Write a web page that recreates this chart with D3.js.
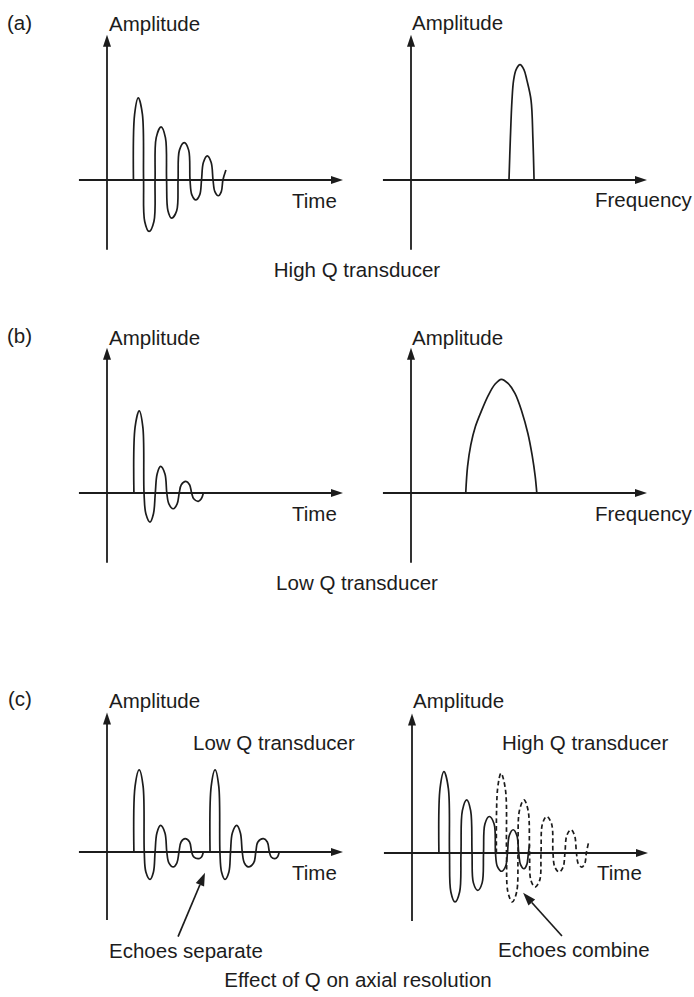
<!DOCTYPE html>
<html>
<head>
<meta charset="utf-8">
<script src="https://cdn.jsdelivr.net/npm/d3@7/dist/d3.min.js"></script>
<style>
  html, body { margin: 0; padding: 0; background: #ffffff; }
  svg { display: block; }
</style>
</head>
<body>
<script>
// ---------------- DATA (time in µs-like units, amplitude normalised) ----------------
// (a) High Q transducer: time-domain ring-down (zero crossings, shoulders, extrema)
const highQTime = [
  [1.15, 0], [1.20, 0.79], [1.36, 0.99], [1.54, 0.79], [1.59, 0],
  [1.64, -0.50], [1.83, -0.62], [2.04, -0.50], [2.09, 0],
  [2.14, 0.51], [2.35, 0.64], [2.54, 0.51], [2.59, 0],
  [2.65, -0.37], [2.81, -0.46], [3.03, -0.37], [3.09, 0],
  [3.15, 0.36], [3.36, 0.45], [3.55, 0.36], [3.61, 0],
  [3.69, -0.18], [3.86, -0.24], [4.03, -0.18], [4.11, 0],
  [4.19, 0.21], [4.36, 0.29], [4.53, 0.21], [4.61, 0],
  [4.69, -0.14], [4.84, -0.19], [4.97, -0.14], [5.04, 0], [5.17, 0.12]
];
// (a) High Q transducer: narrow spectrum
const highQSpectrum = [
  [4.26, 0], [4.32, 0.50], [4.39, 0.96], [4.46, 1.20], [4.57, 1.33], [4.74, 1.39],
  [4.91, 1.33], [5.04, 1.20], [5.22, 0.96], [5.30, 0.50], [5.35, 0]
];
// (b) Low Q transducer: short pulse
const lowQTime = [
  [1.17, 0], [1.22, 0.79], [1.40, 0.99], [1.56, 0.79], [1.61, 0],
  [1.69, -0.25], [1.87, -0.35], [2.02, -0.25], [2.10, 0],
  [2.18, 0.23], [2.33, 0.32], [2.52, 0.23], [2.60, 0],
  [2.69, -0.13], [2.88, -0.19], [3.05, -0.13], [3.14, 0],
  [3.23, 0.10], [3.43, 0.14], [3.59, 0.10], [3.68, 0],
  [3.77, -0.07], [3.97, -0.10], [4.10, -0.07], [4.19, 0]
];
// (b) Low Q transducer: broad spectrum
const lowQSpectrum = [
  [2.38, 0], [2.46, 0.32], [2.60, 0.58], [2.80, 0.80], [3.05, 0.98], [3.35, 1.17],
  [3.65, 1.31], [3.93, 1.37], [4.22, 1.32], [4.52, 1.20], [4.82, 0.98], [5.08, 0.72],
  [5.27, 0.45], [5.40, 0.20], [5.47, 0]
];
// (c) Low Q: two separate echoes
const lowQEcho1 = [
  [1.17, 0], [1.22, 0.79], [1.40, 0.99], [1.57, 0.79], [1.62, 0],
  [1.69, -0.24], [1.87, -0.33], [2.02, -0.24], [2.09, 0],
  [2.17, 0.23], [2.33, 0.32], [2.52, 0.23], [2.60, 0],
  [2.69, -0.13], [2.88, -0.18], [3.04, -0.13], [3.13, 0],
  [3.22, 0.12], [3.40, 0.16], [3.59, 0.12], [3.68, 0],
  [3.77, -0.06], [4.00, -0.08], [4.11, -0.06], [4.19, 0]
];
const lowQEcho2 = [
  [4.48, 0], [4.53, 0.79], [4.70, 0.99], [4.86, 0.79], [4.91, 0],
  [4.98, -0.24], [5.13, -0.33], [5.30, -0.24], [5.37, 0],
  [5.45, 0.23], [5.64, 0.32], [5.80, 0.23], [5.88, 0],
  [5.97, -0.13], [6.14, -0.18], [6.38, -0.13], [6.47, 0],
  [6.56, 0.12], [6.80, 0.16], [6.97, 0.12], [7.06, 0],
  [7.14, -0.06], [7.30, -0.08], [7.41, -0.06], [7.49, 0]
];
// (c) High Q: overlapping echoes (second echo dashed)
const highQEcho1 = [
  [1.17, 0], [1.22, 0.78], [1.39, 0.98], [1.58, 0.78], [1.63, 0],
  [1.69, -0.47], [1.87, -0.59], [2.07, -0.47], [2.13, 0],
  [2.19, 0.51], [2.38, 0.64], [2.55, 0.51], [2.61, 0],
  [2.67, -0.36], [2.86, -0.45], [3.05, -0.36], [3.11, 0],
  [3.17, 0.35], [3.36, 0.44], [3.57, 0.35], [3.63, 0],
  [3.71, -0.16], [3.90, -0.22], [4.07, -0.16], [4.15, 0],
  [4.23, 0.21], [4.40, 0.28], [4.56, 0.21], [4.64, 0],
  [4.72, -0.14], [4.87, -0.19], [4.99, -0.14], [5.06, 0], [5.11, 0.10]
];
const highQEcho2 = [
  [3.67, 0], [3.72, 0.77], [3.87, 0.96], [4.06, 0.77], [4.11, 0],
  [4.17, -0.47], [4.36, -0.59], [4.55, -0.47], [4.61, 0],
  [4.67, 0.51], [4.87, 0.64], [5.05, 0.51], [5.11, 0],
  [5.17, -0.33], [5.35, -0.41], [5.55, -0.33], [5.61, 0],
  [5.67, 0.35], [5.86, 0.44], [6.07, 0.35], [6.13, 0],
  [6.21, -0.17], [6.40, -0.23], [6.57, -0.17], [6.65, 0],
  [6.73, 0.21], [6.91, 0.28], [7.07, 0.21], [7.15, 0],
  [7.23, -0.13], [7.38, -0.17], [7.51, -0.13], [7.58, 0], [7.67, 0.12]
];
// axis extents (data units)
const axisTimeExtent = [-1.22, 10.26];
const axisAmpExtentAB = [-0.84, 1.75];
const axisAmpExtentC = [-0.82, 1.68];
// annotation arrows (data units: [from], [tip])
const arrowSeparate = [[3.09, -1.02], [4.26, -0.25]];
const arrowCombine = [[6.52, -1.00], [4.83, -0.48]];

// ---------------- LAYOUT ----------------
const W = 694, H = 997;
const INK = "#1c1c1c";
const FONT = '"Liberation Sans", Arial, Helvetica, sans-serif';
const FS = "20.5px";
const UX = 23, UY = 83; // pixels per unit

const svg = d3.select("body").append("svg")
  .attr("width", W).attr("height", H)
  .attr("viewBox", `0 0 ${W} ${H}`);

function makePanel(ox, oy, xr, yr) {
  const x = d3.scaleLinear().domain(xr).range([ox + xr[0] * UX, ox + xr[1] * UX]);
  const y = d3.scaleLinear().domain(yr).range([oy - yr[0] * UY, oy - yr[1] * UY]);
  const g = svg.append("g");
  const x0 = x(xr[0]), x1 = x(xr[1]), y0 = y(0);
  g.append("line").attr("x1", x0).attr("x2", x1 - 4).attr("y1", y0).attr("y2", y0)
    .attr("stroke", INK).attr("stroke-width", 1.8);
  g.append("path").attr("d", `M${x1},${y0} L${x1 - 12},${y0 - 4} L${x1 - 12},${y0 + 4} Z`)
    .attr("fill", INK);
  const xv = x(0), yb = y(yr[0]), yt = y(yr[1]);
  g.append("line").attr("x1", xv).attr("x2", xv).attr("y1", yb).attr("y2", yt + 4)
    .attr("stroke", INK).attr("stroke-width", 1.8);
  g.append("path").attr("d", `M${xv},${yt} L${xv - 4},${yt + 12} L${xv + 4},${yt + 12} Z`)
    .attr("fill", INK);
  return { g, x, y };
}

function drawSeries(p, data, curve, dashed) {
  const line = d3.line().x(d => p.x(d[0])).y(d => p.y(d[1])).curve(curve);
  p.g.append("path").datum(data).attr("d", line)
    .attr("fill", "none").attr("stroke", INK).attr("stroke-width", 1.7)
    .attr("stroke-linejoin", "round")
    .attr("stroke-dasharray", dashed ? "4.5,3" : null);
}

function drawArrow(p, pts) {
  const [a, b] = pts;
  const xa = p.x(a[0]), ya = p.y(a[1]), xb = p.x(b[0]), yb = p.y(b[1]);
  const ang = Math.atan2(yb - ya, xb - xa);
  const L = 13, Wd = 4.5;
  const bx = xb - L * Math.cos(ang), by = yb - L * Math.sin(ang);
  p.g.append("line").attr("x1", xa).attr("y1", ya).attr("x2", bx).attr("y2", by)
    .attr("stroke", INK).attr("stroke-width", 1.7);
  const px = -Math.sin(ang) * Wd, py = Math.cos(ang) * Wd;
  p.g.append("path")
    .attr("d", `M${xb},${yb} L${bx + px},${by + py} L${bx - px},${by - py} Z`)
    .attr("fill", INK);
}

function text(str, x, y, anchor) {
  svg.append("text").attr("x", x).attr("y", y)
    .attr("text-anchor", anchor || "start")
    .attr("font-family", FONT).attr("font-size", FS).attr("fill", INK)
    .text(str);
}

const WAVE = d3.curveCatmullRom.alpha(0.5);
const SPEC = d3.curveCatmullRom.alpha(0.5);

// ---- (a) ----
const aT = makePanel(107, 180, axisTimeExtent, axisAmpExtentAB);
drawSeries(aT, highQTime, WAVE, false);
const aF = makePanel(411, 180, axisTimeExtent, axisAmpExtentAB);
drawSeries(aF, highQSpectrum, SPEC, false);
text("(a)", 7, 30);
text("Amplitude", 109, 31);
text("Amplitude", 412, 30);
text("Time", 292, 208);
text("Frequency", 595, 207);
text("High Q transducer", 357, 277, "middle");

// ---- (b) ----
const bT = makePanel(107, 493, axisTimeExtent, axisAmpExtentAB);
drawSeries(bT, lowQTime, WAVE, false);
const bF = makePanel(411, 493, axisTimeExtent, axisAmpExtentAB);
drawSeries(bF, lowQSpectrum, SPEC, false);
text("(b)", 7, 343);
text("Amplitude", 109, 345);
text("Amplitude", 412, 345);
text("Time", 292, 521);
text("Frequency", 595, 521);
text("Low Q transducer", 357, 590, "middle");

// ---- (c) ----
const cL = makePanel(107, 852, axisTimeExtent, axisAmpExtentC);
drawSeries(cL, lowQEcho1, WAVE, false);
drawSeries(cL, lowQEcho2, WAVE, false);
drawArrow(cL, arrowSeparate);
const cR = makePanel(412, 853, axisTimeExtent, axisAmpExtentC);
drawSeries(cR, highQEcho1, WAVE, false);
drawSeries(cR, highQEcho2, WAVE, true);
drawArrow(cR, arrowCombine);
text("(c)", 8, 706);
text("Amplitude", 109, 708);
text("Amplitude", 413, 708);
text("Low Q transducer", 193, 750);
text("High Q transducer", 502, 750);
text("Time", 292, 880);
text("Time", 597, 880);
text("Echoes separate", 109, 958);
text("Echoes combine", 498, 957);
text("Effect of Q on axial resolution", 358, 987, "middle");
</script>
</body>
</html>
